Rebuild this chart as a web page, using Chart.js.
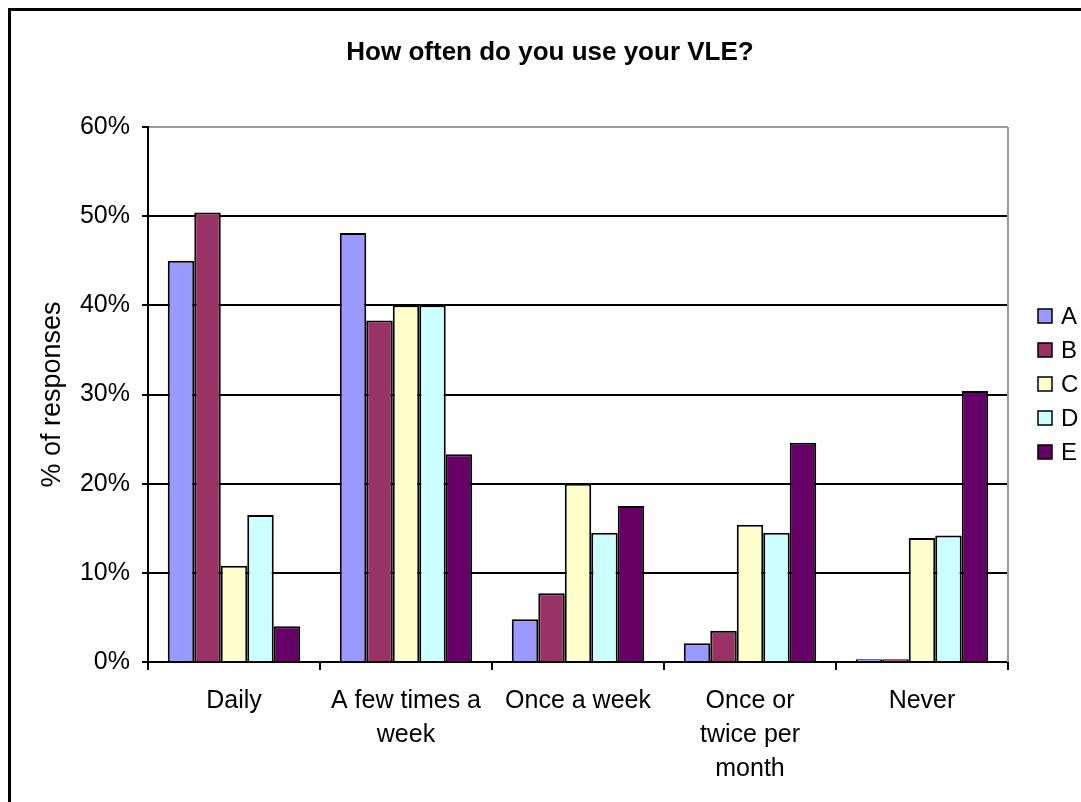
<!DOCTYPE html>
<html>
<head>
<meta charset="utf-8">
<script src="https://cdn.jsdelivr.net/npm/chart.js@4.4.0/dist/chart.umd.min.js"></script>
<style>
html,body{margin:0;padding:0;background:#fff;}
canvas{display:block;}
</style>
</head>
<body>
<canvas id="c" width="1081" height="802"></canvas>
<script>
const chartTitle = 'How often do you use your VLE?';
const yAxisTitle = '% of responses';
const categories = ['Daily', ['A few times a', 'week'], 'Once a week', ['Once or', 'twice per', 'month'], 'Never'];
const seriesNames = ['A', 'B', 'C', 'D', 'E'];
const seriesA = [45.0, 48.1, 4.8, 2.1, 0.3];
const seriesB = [50.4, 38.3, 7.7, 3.5, 0.3];
const seriesC = [10.8, 40.0, 20.0, 15.4, 13.9];
const seriesD = [16.5, 40.0, 14.5, 14.5, 14.2];
const seriesE = [4.0, 23.3, 17.5, 24.6, 30.4];
const seriesColors = ['#9999FF', '#993366', '#FFFFCC', '#CCFFFF', '#660066'];
const yMin = 0, yMax = 60, yStep = 10;

const FONT = '"Liberation Sans", Arial, sans-serif';
Chart.defaults.font.family = FONT;
Chart.defaults.color = '#000';

const allSeries = [seriesA, seriesB, seriesC, seriesD, seriesE];

const decor = {
  id: 'decor',
  afterDraw(chart) {
    const ctx = chart.ctx;
    const ca = chart.chartArea;
    ctx.save();
    // plot area right border (gray)
    ctx.strokeStyle = '#999';
    ctx.lineWidth = 2;
    ctx.beginPath();
    ctx.moveTo(ca.right, ca.top);
    ctx.lineTo(ca.right, ca.bottom);
    ctx.stroke();
    // outer chart border
    ctx.strokeStyle = '#000';
    ctx.lineWidth = 3;
    ctx.beginPath();
    ctx.moveTo(9.5, 802);
    ctx.lineTo(9.5, 9.5);
    ctx.lineTo(1081, 9.5);
    ctx.stroke();
    // title
    ctx.fillStyle = '#000';
    ctx.font = 'bold 26px ' + FONT;
    ctx.textAlign = 'center';
    ctx.textBaseline = 'middle';
    ctx.fillText(chartTitle, 550, 53);
    // legend
    ctx.font = '24px ' + FONT;
    ctx.textAlign = 'left';
    chart.data.datasets.forEach((ds, i) => {
      const cy = 316 + i * 34;
      ctx.fillStyle = ds.backgroundColor;
      ctx.fillRect(1038, cy - 7, 14, 14);
      ctx.strokeStyle = '#000';
      ctx.lineWidth = 1.5;
      ctx.strokeRect(1038, cy - 7, 14, 14);
      ctx.fillStyle = '#000';
      ctx.fillText(ds.label, 1061, cy + 1);
    });
    ctx.restore();
  }
};

new Chart(document.getElementById('c'), {
  type: 'bar',
  data: {
    labels: categories,
    datasets: seriesNames.map((n, i) => ({
      label: n,
      data: allSeries[i],
      backgroundColor: seriesColors[i],
      borderColor: '#000',
      borderWidth: 2,
      categoryPercentage: 0.77,
      barPercentage: 1.0
    }))
  },
  options: {
    responsive: false,
    animation: false,
    layout: { padding: { left: 36, right: 73, top: 127, bottom: 0 } },
    plugins: {
      legend: { display: false },
      title: { display: false },
      tooltip: { enabled: false }
    },
    scales: {
      x: {
        grid: {
          offset: true,
          drawOnChartArea: false,
          drawTicks: true,
          tickLength: 8,
          tickColor: '#000',
          lineWidth: 2
        },
        border: { display: true, color: '#000', width: 2 },
        ticks: {
          font: { size: 25, lineHeight: 1.36 },
          color: '#000',
          padding: 14,
          maxRotation: 0,
          autoSkip: false
        },
        afterFit(scale) { scale.height = 140; }
      },
      y: {
        min: yMin,
        max: yMax,
        ticks: {
          stepSize: yStep,
          font: { size: 25 },
          color: '#000',
          padding: 12,
          callback: v => v + '%'
        },
        grid: {
          color: ctx => (ctx.tick && ctx.tick.value === yMax) ? '#999' : '#000',
          lineWidth: 2,
          tickLength: 6,
          tickColor: '#000'
        },
        border: { display: true, color: '#000', width: 2 },
        title: {
          display: true,
          text: yAxisTitle,
          font: { size: 27 },
          color: '#000',
          padding: { top: 0, bottom: 0 }
        },
        afterFit(scale) { scale.width = 112; }
      }
    }
  },
  plugins: [decor]
});
</script>
</body>
</html>
